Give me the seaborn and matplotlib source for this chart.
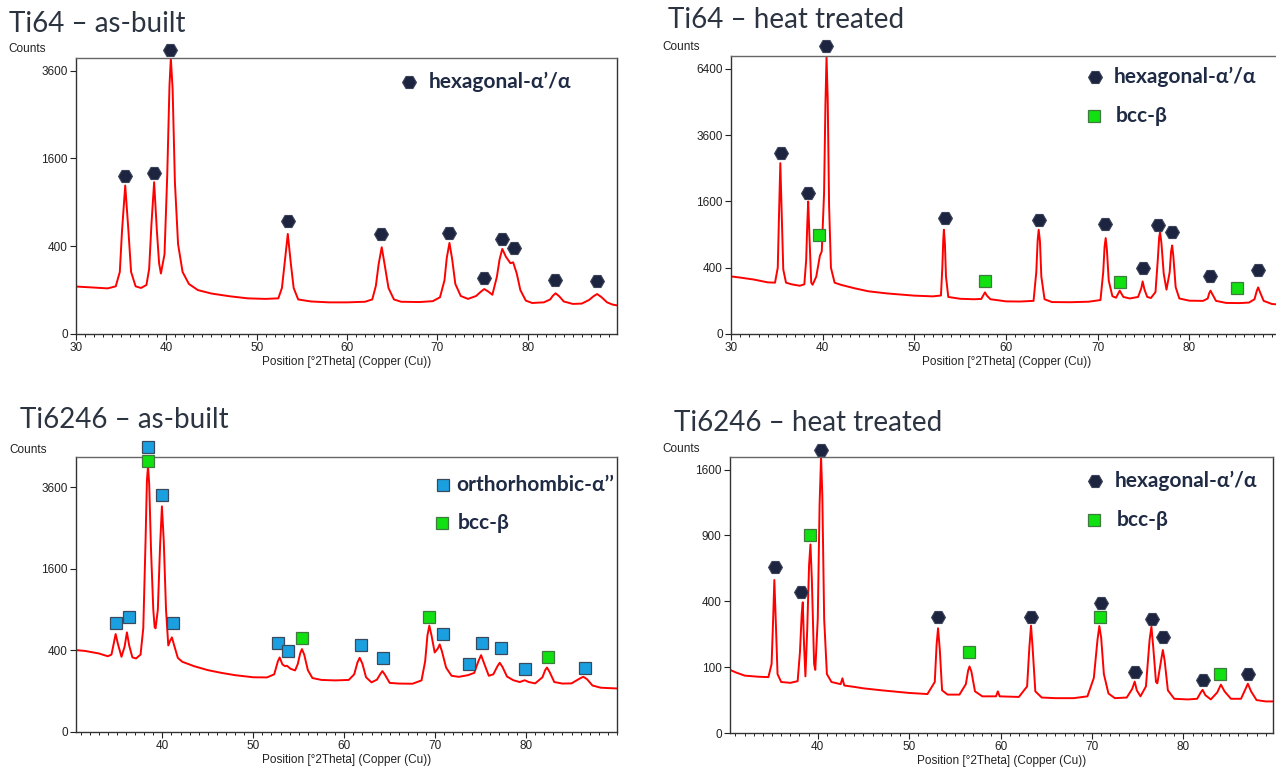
import numpy as np
import matplotlib
matplotlib.use("Agg")
import matplotlib.pyplot as plt
import seaborn as sns
from matplotlib.ticker import MultipleLocator, FixedLocator, FuncFormatter

# ------------------------------------------------
# Data (x = 2Theta, y = counts)
# ------------------------------------------------
# Ti64 as-built
ab64_x = [30, 32, 33.5, 34.4, 34.85, 35.1, 35.45, 35.8, 36.1, 36.6, 37.2, 37.8,
          38.1, 38.35, 38.65, 38.95, 39.2, 39.4, 39.8, 40.1, 40.35, 40.5, 40.7, 40.95,
          41.3, 41.8, 42.5, 43.5, 45, 47, 49, 51, 52.4, 52.8, 53.1, 53.45, 53.8, 54.1,
          54.6, 56, 58, 60, 62, 62.8, 63.2, 63.5, 63.85, 64.2, 64.6, 65.2, 66, 68,
          69.5, 70.3, 70.8, 71.05, 71.35, 71.65, 72.0, 72.6, 73.4, 74.3, 74.8, 75.2,
          75.6, 76.1, 76.6, 76.9, 77.2, 77.6, 78.1, 78.4, 78.8, 79.2, 79.8, 80.5,
          81.8, 82.5, 82.8, 83.1, 83.5, 84.0, 85, 86, 86.8, 87.3, 87.7, 88.2, 88.8,
          89.4, 90]
ab64_y = [117, 112, 108, 118, 200, 560, 1145, 560, 200, 118, 110, 125,
          220, 620, 1197, 560, 260, 190, 330, 1300, 3200, 3950, 3100, 1200,
          420, 200, 130, 100, 85, 74, 66, 64, 66, 110, 260, 520, 250, 110,
          62, 55, 52, 52, 54, 62, 120, 250, 391, 240, 110, 62, 54, 53,
          56, 70, 150, 300, 431, 290, 130, 75, 64, 75, 92, 105,
          95, 80, 170, 290, 376, 310, 260, 267, 190, 100, 58, 50,
          52, 62, 76, 86, 74, 55, 47, 48, 60, 74, 83, 70, 52,
          45, 42]
ab64_hex_x = [35.45, 38.65, 40.45, 53.5, 63.8, 71.35, 75.2, 77.2, 78.55, 83.0, 87.7]
ab64_hex_y = [1295, 1343, 4198, 661, 520, 530, 163, 470, 382, 152, 148]

# Ti64 heat treated
ht64_x = [30, 31, 32.5, 34, 34.8, 35.1, 35.25, 35.38, 35.52, 35.7, 36.0, 36.6,
          37.5, 38.0, 38.2, 38.32, 38.42, 38.55, 38.75, 38.9, 39.3, 39.7, 39.9,
          40.15, 40.3, 40.42, 40.55, 40.7, 40.9, 41.3, 42, 43.5, 45, 47, 50, 52,
          52.9, 53.05, 53.15, 53.22, 53.33, 53.45, 53.7, 55, 56.5, 57.3, 57.55,
          57.7, 57.9, 58.3, 60, 61.5, 63.0, 63.3, 63.45, 63.56, 63.7, 63.85, 64.2,
          65, 67, 69, 70.3, 70.6, 70.75, 70.87, 71.0, 71.2, 71.6, 72.0, 72.4, 72.8,
          73.5, 74.4, 74.75, 74.9, 75.1, 75.4, 75.8, 76.3, 76.55, 76.7, 76.8,
          76.95, 77.2, 77.5, 77.85, 78.0, 78.12, 78.25, 78.5, 78.9, 80, 81.5, 82.0,
          82.15, 82.3, 82.5, 82.9, 84, 85.5, 86.5, 87.1, 87.35, 87.5, 87.7, 88.1,
          89, 90.1]
ht64_y = [302, 290, 270, 243, 240, 400, 1400, 2659, 1400, 380, 240, 225,
          212, 225, 500, 1100, 1600, 900, 240, 221, 300, 560, 621,
          1800, 4800, 7000, 5000, 1500, 400, 240, 220, 190, 166, 150, 134, 129,
          135, 400, 800, 990, 750, 300, 125, 113, 110, 112, 140,
          158, 135, 110, 97, 96, 100, 350, 800, 990, 780, 300, 110,
          93, 92, 95, 105, 350, 700, 838, 650, 260, 130, 120, 171, 125,
          115, 125, 190, 252, 180, 125, 118, 160, 500, 850, 946,
          750, 330, 179, 350, 620, 714, 550, 200, 115, 101, 100, 115,
          150, 171, 145, 100, 88, 87, 90, 110, 170, 198, 160, 100,
          82, 78]
ht64_hex_x = [35.47, 38.4, 40.4, 53.3, 63.56, 70.76, 74.9, 76.6, 78.1, 82.3, 87.5]
ht64_hex_y = [3000, 1807, 7556, 1223, 1174, 1107, 396, 1087, 946, 306, 369]
ht64_bcc_x = [39.6, 57.7, 72.4, 85.2]
ht64_bcc_y = [891, 252, 243, 190]

# Ti6246 as-built
ab6246_x = [30.5, 31.5, 33, 34.0, 34.4, 34.65, 34.86, 35.1, 35.5, 35.85, 36.1,
            36.35, 36.7, 37.1, 37.6, 37.9, 38.15, 38.3, 38.42, 38.55, 38.75, 39.0,
            39.15, 39.25, 39.5, 39.75, 39.95, 40.15, 40.4, 40.65, 40.85, 41.05,
            41.3, 41.7, 42.2, 43.5, 45, 46.5, 48, 50, 51.5, 52.3, 52.7, 52.9, 53.2,
            53.5, 53.7, 54.1, 54.6, 54.9, 55.15, 55.35, 55.6, 56.0, 56.5, 57.5, 59,
            60.5, 61.1, 61.45, 61.7, 62.0, 62.4, 63.0, 63.6, 64.0, 64.2, 64.5, 65.0,
            66, 67.5, 68.5, 68.9, 69.15, 69.36, 69.6, 69.95, 70.3, 70.5, 70.75,
            71.2, 71.8, 72.6, 73.6, 74.3, 74.75, 75.05, 75.35, 75.9, 76.4, 76.85,
            77.1, 77.4, 77.9, 78.6, 79.3, 79.85, 80.3, 81.0, 81.8, 82.1, 82.3,
            82.6, 83.1, 84.0, 85.0, 85.7, 86.1, 86.3, 86.7, 87.3, 88.2, 89.0, 90]
ab6246_y = [403, 395, 371, 345, 360, 470, 577, 470, 340, 440, 597,
            450, 335, 325, 360, 650, 2200, 3800, 4250, 3700, 2000, 900,
            660, 646, 900, 2100, 3060, 2200, 900, 450, 500, 538,
            450, 330, 296, 260, 230, 210, 194, 180, 179, 200, 300, 334, 275,
            260, 264, 240, 228, 280, 370, 413, 360, 230, 175, 163, 160,
            163, 200, 290, 331, 280, 180, 148, 165, 205, 223, 195, 145,
            141, 140, 160, 300, 560, 680, 560, 380, 420, 461, 390,
            250, 190, 183, 194, 210, 300, 355, 290, 190, 200, 260,
            288, 255, 185, 161, 150, 161, 150, 142, 180, 230, 250,
            215, 150, 141, 142, 165, 178, 183, 168, 130, 118, 116, 114]
ab6246_ortho_x = [34.86, 36.35, 38.42, 40.0, 41.2, 52.67, 53.8, 61.8, 64.27, 70.85,
                  73.7, 75.14, 77.26, 79.87, 86.46]
ab6246_ortho_y = [718, 790, 4890, 3377, 718, 472, 393, 454, 331, 577,
                  282, 472, 423, 237, 248]
ab6246_bcc_x = [38.42, 55.34, 69.36, 82.44]
ab6246_bcc_y = [4408, 527, 790, 340]

# Ti6246 heat treated
ht6246_x = [30.4, 31, 32, 33.5, 34.6, 34.95, 35.12, 35.25, 35.4, 35.6, 36.0, 37.0,
            37.8, 38.05, 38.25, 38.36, 38.5, 38.65, 38.85, 39.05, 39.2, 39.35, 39.6,
            39.73, 40.0, 40.2, 40.36, 40.5, 40.7, 41.0, 41.5, 42.5, 42.7, 42.9, 44,
            45, 47, 50, 52, 52.8, 53.0, 53.16, 53.35, 53.6, 54.2, 55.5, 56.2, 56.45,
            56.6, 56.8, 57.2, 58, 59.5, 59.7, 59.9, 62, 62.9, 63.15, 63.33, 63.5,
            63.8, 64.5, 66, 68, 69.5, 70.2, 70.6, 70.8, 71.0, 71.3, 71.8, 72.5, 73.8,
            74.4, 74.67, 74.9, 75.3, 75.9, 76.3, 76.5, 76.7, 77.0, 77.15, 77.55,
            77.75, 77.95, 78.3, 79, 80.5, 81.5, 81.9, 82.1, 82.4, 83, 83.7, 84.1,
            84.5, 85.2, 86.3, 86.8, 87.05, 87.4, 88, 89, 89.8]
ht6246_y = [92, 85, 76, 73, 72, 110, 300, 540, 300, 80, 60, 58,
            62, 150, 330, 394, 180, 74, 250, 650, 820, 550, 110,
            92, 300, 1200, 1760, 1300, 300, 80, 60, 55, 69, 52, 49,
            46, 42, 37, 35, 60, 180, 253, 160, 42, 34, 34, 55, 90,
            102, 88, 40, 31, 31, 40, 31, 30, 50, 170, 266, 170,
            40, 29, 28, 28, 31, 70, 200, 264, 210, 80, 36, 28, 29,
            45, 61, 42, 31, 50, 200, 261, 170, 60, 57, 120,
            159, 120, 42, 27, 26, 27, 38, 43, 33, 26, 38, 54,
            40, 27, 27, 45, 56, 40, 25, 23, 23]
ht6246_hex_x = [35.29, 38.13, 40.4, 53.1, 63.33, 70.93, 76.53, 77.78, 74.67, 82.1, 87.1]
ht6246_hex_y = [638, 461, 1843, 309, 309, 388, 300, 212, 87, 65, 81]
ht6246_bcc_x = [39.16, 56.5, 70.84, 84.04]
ht6246_bcc_y = [903, 153, 309, 80]

titles = ["Ti64 \u2013 as-built", "Ti64 \u2013 heat treated",
          "Ti6246 \u2013 as-built", "Ti6246 \u2013 heat treated"]
hex_label = "hexagonal-\u03b1\u2019/\u03b1"
bcc_label = "bcc-\u03b2"
ortho_label = "orthorhombic-\u03b1\u2019\u2019"
x_ticks = [30, 40, 50, 60, 70, 80]

# ------------------------------------------------
# Style
# ------------------------------------------------
sns.set_theme(style="white")
plt.rcParams['font.family'] = ['Liberation Sans', 'DejaVu Sans']

W, H = 1276, 771
RED = "#ff0000"
NAVY = "#1c2440"
BLUE = "#1aa0e0"
GREEN = "#11e011"
TXT = "#1f2a44"


def fx(px):
    return px / W


def fy(py):
    return 1 - py / H


fwd = lambda v: np.sqrt(np.maximum(v, 0))
inv = lambda v: np.square(v)

fig = plt.figure(figsize=(W / 100, H / 100), dpi=100)

# axes boxes in pixels: left, top, right, bottom
boxes = [(76, 58, 617, 334), (731, 56, 1282, 334),
         (76, 457, 617, 732), (730, 457, 1273, 733)]
xlims = [(30, 89.9), (30, 90.1), (30.5, 90), (30.4, 89.8)]
ylims = [3956, 7040, 4546, 1757]
yticks = [[0, 400, 1600, 3600], [0, 400, 1600, 3600, 6400],
          [0, 400, 1600, 3600], [0, 100, 400, 900, 1600]]
title_pos = [(9, 32), (668, 28), (20, 428), (674, 431)]
counts_pos = [(8, 49), (662, 47), (9, 450), (662, 449)]

curves = [(ab64_x, ab64_y), (ht64_x, ht64_y), (ab6246_x, ab6246_y), (ht6246_x, ht6246_y)]

axes = []
for i, (l, t, r, b) in enumerate(boxes):
    ax = fig.add_axes([fx(l), fy(b), fx(r - l), (b - t) / H])
    ax.set_yscale('function', functions=(fwd, inv))
    cx, cy = curves[i]
    sns.lineplot(x=cx, y=cy, ax=ax, color=RED, linewidth=1.4, estimator=None, sort=False)
    ax.set_xlim(*xlims[i])
    ax.set_ylim(0, ylims[i])
    ax.yaxis.set_major_locator(FixedLocator(yticks[i]))
    ax.yaxis.set_major_formatter(FuncFormatter(lambda v, p: f"{int(round(v))}"))
    ax.yaxis.set_minor_locator(FixedLocator([]))
    ax.xaxis.set_major_locator(FixedLocator(x_ticks))
    ax.xaxis.set_minor_locator(MultipleLocator(1))
    ax.tick_params(axis='both', which='major', direction='out', length=4, width=0.8,
                   labelsize=8.5, pad=2, colors='#222222', bottom=True, left=True)
    ax.tick_params(axis='x', which='minor', direction='out', length=2.2, width=0.7,
                   bottom=True, colors='#222222')
    for s in ax.spines.values():
        s.set_color('#333333')
        s.set_linewidth(1.0)
    ax.spines['top'].set_color('#666666')
    ax.set_xlabel("Position [\u00b02Theta] (Copper (Cu))", fontsize=8.5, labelpad=1,
                  color='#222222')
    ax.set_ylabel("")
    ax.grid(False)
    tx, ty = title_pos[i]
    fig.text(fx(tx), fy(ty), titles[i], fontsize=20, color="#2c3441",
             family=['Lato', 'DejaVu Sans'], fontweight='normal', va='baseline', ha='left')
    cxp, cyp = counts_pos[i]
    fig.text(fx(cxp), fy(cyp), "Counts", fontsize=8.5, color='#222222', va='center', ha='left')
    axes.append(ax)


def hexes(ax, xs, ys):
    ax.plot(xs, ys, ls='none', marker='H', ms=10, mfc=NAVY, mec="#3a4258", mew=0.8,
            clip_on=False, zorder=5)


def squares(ax, xs, ys, color, edge):
    ax.plot(xs, ys, ls='none', marker='s', ms=8.5, mfc=color, mec=edge, mew=0.9,
            clip_on=False, zorder=5)


def legend_item(ax, x, y, kind, label, tx):
    if kind == 'hex':
        hexes(ax, [x], [y])
    elif kind == 'bcc':
        squares(ax, [x], [y], GREEN, "#3f7a3f")
    else:
        squares(ax, [x], [y], BLUE, "#3a4a5e")
    ax.text(tx, y, label, fontsize=15, fontweight='bold', color=TXT,
            family=['Lato', 'Open Sans', 'DejaVu Sans'], va='center', ha='left')


a1, a2, a3, a4 = axes
hexes(a1, ab64_hex_x, ab64_hex_y)
legend_item(a1, 66.9, 3296, 'hex', hex_label, 69.1)

hexes(a2, ht64_hex_x, ht64_hex_y)
squares(a2, ht64_bcc_x, ht64_bcc_y, GREEN, "#3f7a3f")
legend_item(a2, 69.7, 6004, 'hex', hex_label, 71.8)
legend_item(a2, 69.6, 4345, 'bcc', bcc_label, 72.0)

squares(a3, ab6246_ortho_x, ab6246_ortho_y, BLUE, "#3a4a5e")
squares(a3, ab6246_bcc_x, ab6246_bcc_y, GREEN, "#3f7a3f")
legend_item(a3, 70.85, 3659, 'ortho', ortho_label, 72.3)
legend_item(a3, 70.7, 2616, 'bcc', bcc_label, 72.5)

hexes(a4, ht6246_hex_x, ht6246_hex_y)
squares(a4, ht6246_bcc_x, ht6246_bcc_y, GREEN, "#3f7a3f")
legend_item(a4, 70.36, 1466, 'hex', hex_label, 72.5)
legend_item(a4, 70.2, 1045, 'bcc', bcc_label, 72.7)

fig.savefig("out.png", dpi=100)
